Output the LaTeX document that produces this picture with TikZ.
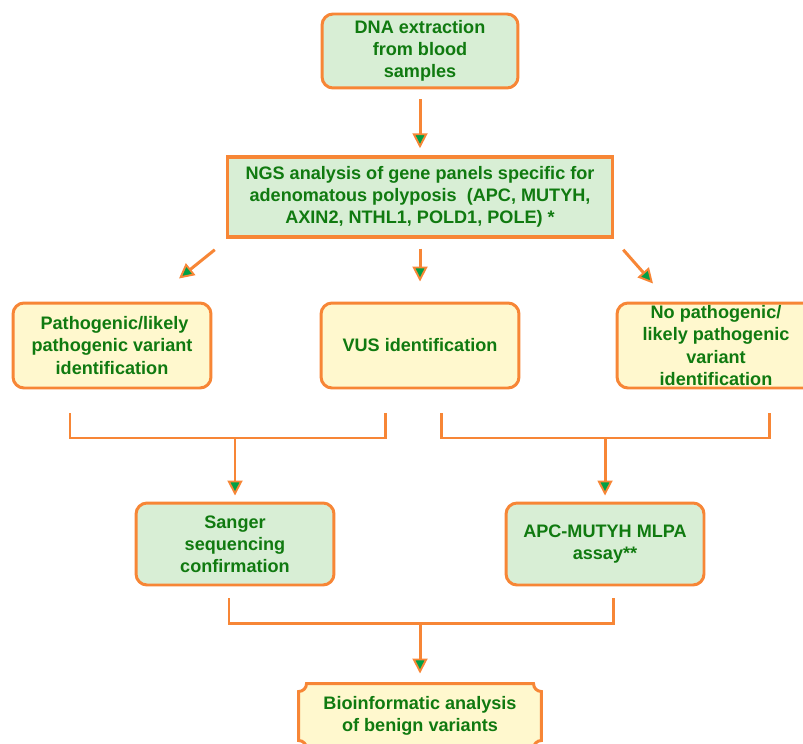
\documentclass[tikz,border=0pt]{standalone}
\usepackage{fontspec}
\setmainfont{Liberation Sans}
\usetikzlibrary{arrows.meta,backgrounds}
\definecolor{lineorange}{RGB}{247,134,54}
\definecolor{fillgreen}{RGB}{216,238,213}
\definecolor{fillyellow}{RGB}{255,248,206}
\definecolor{textgreen}{RGB}{16,122,16}
\definecolor{tipgreen}{RGB}{0,160,70}
\begin{document}
\begin{tikzpicture}[x=0.02cm,y=0.02cm,
    box/.style={draw=lineorange,line width=1.7pt,rounded corners=0.22cm,align=center,
      text=textgreen,font=\fontsize{10.3}{12.6}\selectfont\bfseries,inner sep=0pt,
      minimum width=3.96cm,minimum height=1.7cm},
    greenbox/.style={box,fill=fillgreen},
    yellowbox/.style={box,fill=fillyellow},
    flow/.style={draw=lineorange,line width=1.7pt,
      -{Triangle[length=0.3cm,width=0.3cm,fill=tipgreen,line width=1.1pt]}},
    bracket/.style={draw=lineorange,line width=1.7pt}]
    \useasboundingbox (0,0) rectangle (803,-743);

    % Boxes:
    \node[greenbox,minimum width=3.92cm,minimum height=1.48cm] (dna) at (420,-51)
        {DNA extraction\\from blood\\samples};
    \node[greenbox,rounded corners=0pt,line width=2pt,minimum width=7.7cm,minimum height=1.6cm]
        (ngs) at (420,-197)
        {NGS analysis of gene panels specific for\\adenomatous polyposis\ \ (APC, MUTYH,\\AXIN2, NTHL1, POLD1, POLE) *};

    \node[yellowbox] (pv) at (112,-345.5) {\ Pathogenic/likely\\pathogenic variant\\identification};
    \node[yellowbox] (vus) at (420,-345.5) {VUS identification};
    \node[yellowbox] (nopv) at (716,-345.5) {No pathogenic/\\likely pathogenic\\variant\\identification};

    \node[greenbox,minimum height=1.64cm] (sanger) at (235,-544) {Sanger\\sequencing\\confirmation};
    \node[greenbox,minimum height=1.64cm] (mlpa) at (605,-544) {APC-MUTYH MLPA\\assay**};

    \node[box,draw=none,rounded corners=0pt,minimum width=4.8cm,minimum height=1.24cm]
        (bioinf) at (420,-716) {Bioinformatic analysis\\of benign variants};

    % Frame with cut-in corners behind the last box:
    \begin{scope}[on background layer]
    \draw[fill=fillyellow,draw=lineorange,line width=1.7pt]
        ([xshift=0.16cm]bioinf.north west) -- ([xshift=-0.16cm]bioinf.north east)
        arc[start angle=180,end angle=270,radius=0.16cm]
        -- ([yshift=0.16cm]bioinf.south east)
        arc[start angle=90,end angle=180,radius=0.16cm]
        -- ([xshift=0.16cm]bioinf.south west)
        arc[start angle=0,end angle=90,radius=0.16cm]
        -- ([yshift=-0.16cm]bioinf.north west)
        arc[start angle=270,end angle=360,radius=0.16cm] -- cycle;
    \end{scope}

    % Arrows:
    \draw[flow,shorten <=0.2cm,shorten >=0.14cm] (dna) -- (ngs);
    \draw[flow,shorten <=0.2cm,shorten >=0.4cm] (ngs) -- (vus);
    \draw[flow] ([xshift=-0.22cm,yshift=-0.22cm]ngs.south west) -- ([xshift=1.34cm,yshift=0.46cm]pv.north);
    \draw[flow] ([xshift=0.18cm,yshift=-0.22cm]ngs.south east) -- ([xshift=-1.26cm,yshift=0.36cm]nopv.north);

    % Brackets:
    \coordinate (pvleg) at (70,-413);
    \coordinate (vusleg) at (385,-413);
    \coordinate (pvjoin) at (235,-438);
    \draw[bracket] (pvleg) -- ++(0,-25) -| (vusleg);
    \draw[flow,shorten >=0.12cm] (pvjoin) -- (sanger);

    \coordinate (vusleg2) at (441,-413);
    \coordinate (nopvleg) at (769,-413);
    \coordinate (nopvjoin) at (605,-438);
    \draw[bracket] (vusleg2) -- ++(0,-25) -| (nopvleg);
    \draw[flow,shorten >=0.12cm] (nopvjoin) -- (mlpa);

    \coordinate (sangerleg) at (229,-598);
    \coordinate (mlpaleg) at (613,-598);
    \coordinate (bioinfjoin) at (420,-623);
    \draw[bracket] (sangerleg) -- ++(0,-25) -| (mlpaleg);
    \draw[flow,shorten >=0.2cm] (bioinfjoin) -- (bioinf);
\end{tikzpicture}
\end{document}
